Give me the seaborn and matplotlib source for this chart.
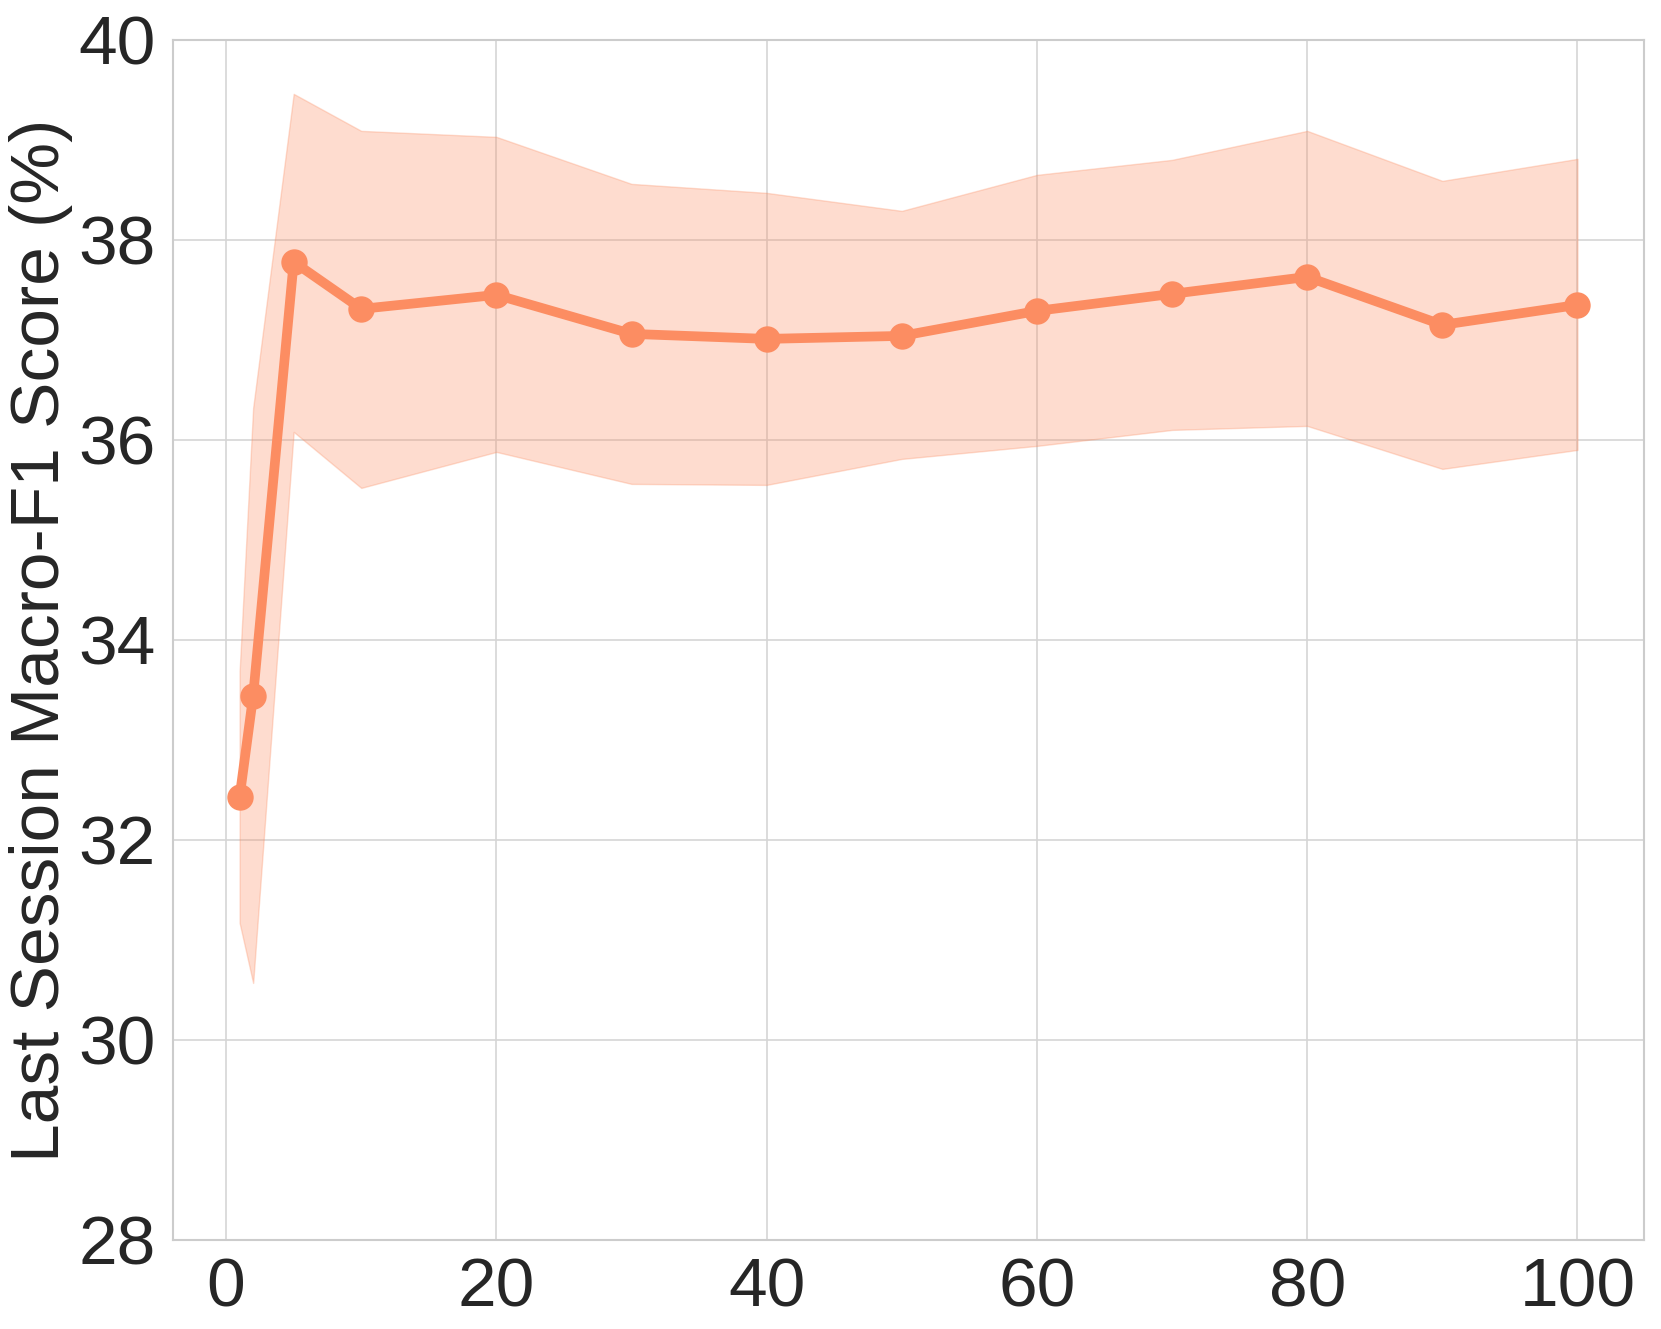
import matplotlib
matplotlib.use("Agg")
import matplotlib.pyplot as plt
import seaborn as sns
import pandas as pd

x_values = [1, 2, 5, 10, 20, 30, 40, 50, 60, 70, 80, 90, 100]
mean_f1 = [32.43, 33.44, 37.78, 37.31, 37.45, 37.06, 37.01, 37.04, 37.29, 37.46, 37.63, 37.15, 37.35]
upper_f1 = [33.69, 36.32, 39.46, 39.09, 39.03, 38.56, 38.47, 38.29, 38.65, 38.80, 39.09, 38.59, 38.81]
lower_f1 = [31.17, 30.57, 36.08, 35.52, 35.88, 35.56, 35.55, 35.81, 35.94, 36.10, 36.14, 35.71, 35.90]
y_ticks = [28, 30, 32, 34, 36, 38, 40]
x_ticks = [0, 20, 40, 60, 80, 100]
color = "#fc8d62"

sns.set_theme(style="whitegrid")
plt.rcParams['font.family'] = ['Liberation Sans', 'DejaVu Sans']

df = pd.DataFrame({"x": x_values, "y": mean_f1})

fig = plt.figure(figsize=(16.61, 13.29), dpi=100)
ax = fig.add_axes([0.104, 0.067, 0.886, 0.903])

ax.fill_between(x_values, lower_f1, upper_f1, color=color, alpha=0.3, linewidth=1)
sns.lineplot(data=df, x="x", y="y", ax=ax, color=color, linewidth=7,
             marker="o", markersize=19, markeredgewidth=0)

ax.set_ylim(28, 40)
ax.set_xlim(-3.95, 104.95)
ax.set_yticks(y_ticks)
ax.set_xticks(x_ticks)
ax.set_xlabel("")
ax.set_ylabel("Last Session Macro-F1 Score (%)", fontsize=50, color="#262626")
ax.tick_params(axis="both", labelsize=50, colors="#262626", pad=6)
for s in ax.spines.values():
    s.set_color("#cccccc")
    s.set_linewidth(1.5)
ax.grid(True, color="#d5d5d5", linewidth=1.2)

fig.savefig("out.png", dpi=100)
